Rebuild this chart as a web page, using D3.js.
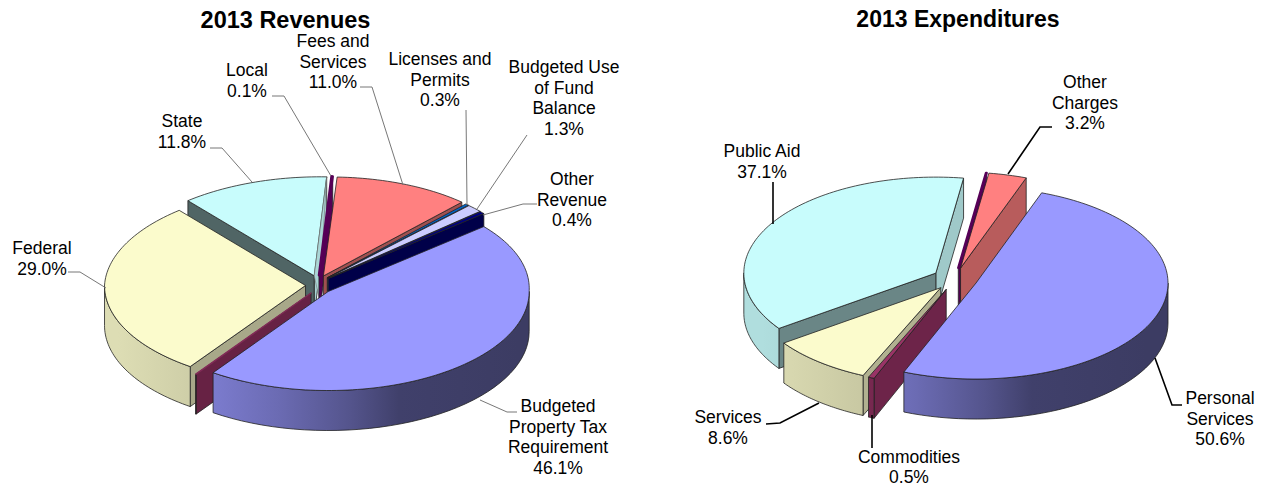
<!DOCTYPE html>
<html><head><meta charset="utf-8">
<script src="https://cdn.jsdelivr.net/npm/d3@7"></script>
<style>html,body{margin:0;padding:0;background:#fff}svg{display:block}text{font-family:"Liberation Sans",Arial,sans-serif;fill:#000}</style>
</head><body><svg id="c" width="1267" height="487"></svg>
<script>
// ---------- data ----------
const revCategories = ["Budgeted Property Tax Requirement","(unlabelled)","Federal","State","Local","Fees and Services","Licenses and Permits","Budgeted Use of Fund Balance","Other Revenue"];
const revValues = [46.1,0.02,29.0,11.8,0.1,11.0,0.3,1.3,0.4];
const revColors = ["#9999FF","#993366","#FBFBCC","#C8FCFC","#660066","#FF8080","#0066CC","#CCCCFF","#000080"];
const revLabels = [["Budgeted","Property Tax","Requirement"],null,["Federal"],["State"],["Local"],["Fees and","Services"],["Licenses and","Permits"],["Budgeted Use","of Fund","Balance"],["Other","Revenue"]];

const expCategories = ["Personal Services","Commodities","Services","Public Aid","(unlabelled)","Other Charges"];
const expValues = [50.6,0.5,8.6,37.1,0.05,3.2];
const expColors = ["#9999FF","#993366","#FBFBCC","#C8FCFC","#660066","#FF8080"];
const expLabels = [["Personal","Services"],["Commodities"],["Services"],["Public Aid"],null,["Other","Charges"]];

// ---------- layout ----------
const revLayout = {title:"2013 Revenues",titleX:285.5,titleY:28,titleSize:23.5,cx:318.5,cy:285,rx:201,ry:99,h:40,e:13,ke:.75,rot:49,sk:.03,strip:3,
  paint:[3,4,5,6,7,8,2,1,0],lineColor:"#777",lineWidth:1,
  labelPos:[[558,412],null,[42,254],[182,127],[247,76],[333,47],[440,65],[564,73],[572,185]],
  leaders:[[[517,412],[507,412],[480,400]],null,[[68,272],[80,272],[106,288]],[[210,148],[222,148],[252,182]],[[272,96],[284,96],[331,176]],[[360,87],[372,87],[403,185]],[[466,110],[467,205]],[[527,135],[477,209]],[[537,204],[523,204],[483,215]]]};
const expLayout = {title:"2013 Expenditures",titleX:958,titleY:27,titleSize:23,cx:955,cy:279,rx:192,ry:96,h:40,e:22.5,ke:.5,rot:20,sk:0,strip:-1,
  paint:[3,4,5,2,1,0],lineColor:"#000",lineWidth:1.6,
  labelPos:[[1220,404],[909,462.5],[728,423],[762,157],null,[1085,88]],
  leaders:[[[1182,405],[1172,405],[1155,358]],[[872,448],[872,415]],[[766,424],[780,423],[819,403]],[[773,182],[773,224]],null,[[1052,127],[1040,127],[1008,174]]]};

const svg = d3.select("#c"), defs = svg.append("defs");
const rad = d => d*Math.PI/180;
const wallShade = d3.scaleLinear().domain([90,110,125,145,230,270]).range([.85,.72,.67,.53,.4,.4]).clamp(true);
const outerStops = [[0,.88],[.25,.8],[.4,.7],[.58,.55],[.7,.42],[1,.39]];
const lineGen = d3.line();
const shade = (c,f)=>{const q=d3.rgb(c);return d3.rgb(q.r*f,q.g*f,q.b*f).formatHex();};

function drawPie(values,colors,labels,L,id){
  const arcs = d3.pie().sort(null).value(d=>d).startAngle(rad(L.rot)).endAngle(rad(L.rot+360))(values);
  const g = svg.append("g");
  const gradFor = c=>{
    const gid=id+c.slice(1);
    const gr=defs.append("linearGradient").attr("id",gid).attr("gradientUnits","userSpaceOnUse")
      .attr("x1",L.cx-L.rx).attr("x2",L.cx+L.rx).attr("y1",0).attr("y2",0);
    outerStops.forEach(s=>gr.append("stop").attr("offset",s[0]).attr("stop-color",shade(c,s[1])));
    return `url(#${gid})`;
  };
  L.paint.forEach(i=>{
    const s=arcs[i], mid=(s.startAngle+s.endAngle)/2, c=colors[i];
    const ox=L.cx+L.e*Math.sin(mid), oy=L.cy-L.e*L.ke*Math.cos(mid);
    const P=(a,r,z)=>[ox+L.rx*r*Math.sin(a)+L.rx*L.sk*r*Math.max(0,Math.cos(a)), oy-L.ry*r*Math.cos(a)+z*L.h];
    const style=sel=>sel.attr("stroke","#222").attr("stroke-width",.8).attr("stroke-linejoin","round");
    // radial walls
    [[s.endAngle,90],[s.startAngle,-90]].forEach(([a,dn])=>{
      const n=(a*180/Math.PI+dn+360)%360;
      if(Math.cos(rad(n))>=0) return;
      g.append("path").attr("d",lineGen([P(a,0,0),P(a,1,0),P(a,1,1),P(a,0,1)])+"Z")
        .attr("fill",shade(c,wallShade(n))).call(style);
    });
    // outer wall
    const lo=Math.max(s.startAngle,rad(90)), hi=Math.min(s.endAngle,rad(270));
    if(hi>lo){
      const as=d3.range(0,41).map(k=>lo+(hi-lo)*k/40);
      const pts=as.map(a=>P(a,1,0)).concat(as.slice().reverse().map(a=>P(a,1,1)));
      g.append("path").attr("d",lineGen(pts)+"Z").attr("fill",gradFor(c)).call(style);
    }
    // top face
    const span=s.endAngle-s.startAngle, thin=span<rad(1);
    const n=Math.max(2,Math.ceil(span/rad(1.5)));
    const top=[P(0,0,0)].concat(d3.range(0,n+1).map(k=>P(s.startAngle+span*k/n,1,0)));
    const face=g.append("path").attr("d",lineGen(top)+"Z").attr("fill",c).call(style);
    if(thin) face.attr("stroke",shade(c,.85)).attr("stroke-width",span<rad(.5)&&i===4?2.4:1.4);
    // narrow strip of the far slice's side wall, seen past its edge
    if(i===L.strip){
      const A=P(s.endAngle,1,0), B=P(s.endAngle,0,0);
      g.append("path").attr("d",lineGen([A,B,[B[0]+5,B[1]+22]])+"Z").attr("fill",shade(c,.85)).attr("stroke","#777").attr("stroke-width",.6);
    }
  });
  // leaders
  L.leaders.forEach(l=>{ if(!l) return;
    g.append("path").attr("d",lineGen(l)).attr("fill","none").attr("stroke",L.lineColor).attr("stroke-width",L.lineWidth);
  });
  // labels
  labels.forEach((lab,i)=>{ if(!lab) return;
    const t=g.append("text").attr("text-anchor","middle").attr("font-size",17.5);
    const [x,y]=L.labelPos[i];
    lab.concat(values[i].toFixed(1)+"%").forEach((ln,k)=>t.append("tspan").attr("x",x).attr("y",y+k*20.7).text(ln));
  });
  g.append("text").attr("x",L.titleX).attr("y",L.titleY).attr("text-anchor","middle")
    .attr("font-size",L.titleSize).attr("font-weight","bold").text(L.title);
}
drawPie(revValues,revColors,revLabels,revLayout,"r");
drawPie(expValues,expColors,expLabels,expLayout,"e");
</script></body></html>
